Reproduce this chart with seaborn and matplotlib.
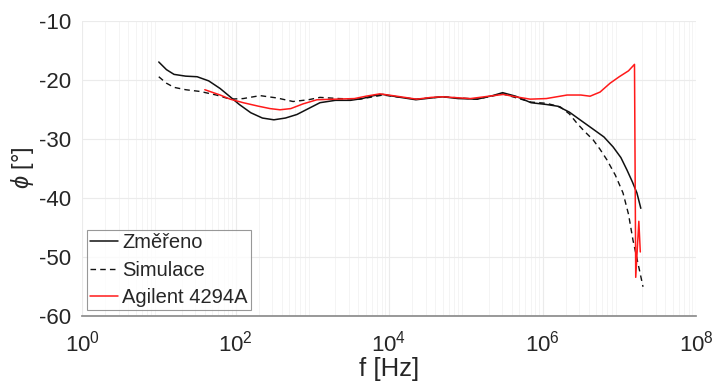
import numpy as np
import pandas as pd
import matplotlib
matplotlib.use("Agg")
import matplotlib.pyplot as plt
import seaborn as sns
from matplotlib.ticker import LogLocator

# Změřeno (measured)
f_meas = [1.00e1, 1.26e1, 1.58e1, 2.24e1, 3.16e1, 4.47e1, 6.31e1, 8.51e1, 1.12e2,
          1.58e2, 2.24e2, 3.16e2, 4.47e2, 6.31e2, 8.91e2, 1.26e3, 2.00e3, 3.16e3,
          4.47e3, 6.31e3, 8.32e3, 1.26e4, 2.24e4, 3.55e4, 5.01e4, 7.94e4, 1.41e5,
          2.24e5, 3.02e5, 4.47e5, 7.08e5, 1.12e6, 1.58e6, 2.24e6, 3.16e6, 4.47e6,
          6.31e6, 8.32e6, 1.05e7, 1.26e7, 1.48e7, 1.70e7, 1.91e7]
phi_meas = [-17.0, -18.3, -19.1, -19.4, -19.5, -20.2, -21.5, -22.9, -24.2,
            -25.6, -26.5, -26.8, -26.5, -25.9, -24.9, -23.9, -23.5, -23.5,
            -23.2, -22.7, -22.5, -22.9, -23.4, -23.1, -22.9, -23.2, -23.3,
            -22.7, -22.2, -22.8, -23.9, -24.2, -24.5, -25.5, -26.9, -28.3,
            -29.7, -31.4, -33.2, -35.3, -37.3, -39.2, -41.8]

# Simulace (simulation)
f_sim = [1.00e1, 1.26e1, 1.58e1, 2.24e1, 3.47e1, 5.62e1, 8.51e1, 1.26e2, 2.09e2,
         3.47e2, 5.62e2, 8.91e2, 1.26e3, 2.24e3, 4.17e3, 8.32e3, 2.24e4, 5.01e4,
         1.41e5, 3.02e5, 7.08e5, 1.12e6, 1.70e6, 2.24e6, 2.82e6, 3.55e6, 4.57e6,
         5.62e6, 6.92e6, 8.91e6, 1.12e7, 1.32e7, 1.51e7, 1.78e7, 2.04e7]
phi_sim = [-19.5, -20.6, -21.3, -21.7, -22.0, -22.6, -23.3, -23.2, -22.7,
           -23.1, -23.7, -23.4, -23.0, -23.2, -23.3, -22.6, -23.3, -22.9,
           -23.3, -22.4, -23.8, -24.0, -24.6, -25.8, -27.4, -28.8, -30.2,
           -31.8, -33.6, -36.2, -39.2, -42.8, -47.2, -51.5, -55.1]

# Agilent 4294A
f_agil = [3.98e1, 6.31e1, 8.51e1, 1.26e2, 2.00e2, 2.82e2, 3.80e2, 5.25e2, 7.59e2,
          1.15e3, 2.00e3, 3.55e3, 5.01e3, 7.59e3, 1.26e4, 2.29e4, 3.55e4, 5.01e4,
          1.15e5, 2.00e5, 3.09e5, 4.47e5, 6.92e5, 1.12e6, 2.09e6, 3.16e6, 4.17e6,
          5.62e6, 7.59e6, 1.00e7, 1.32e7, 1.58e7, 1.64e7, 1.80e7, 1.88e7]
phi_agil = [-21.7, -22.6, -23.3, -23.9, -24.5, -24.9, -25.1, -24.9, -24.1,
            -23.4, -23.3, -23.2, -22.8, -22.4, -22.8, -23.3, -23.0, -22.9,
            -23.2, -22.8, -22.5, -22.9, -23.3, -23.2, -22.6, -22.6, -22.8,
            -22.1, -20.6, -19.5, -18.5, -17.4, -53.5, -44.0, -49.2]

sns.set_theme(style="white")
plt.rcParams["font.family"] = ["Liberation Sans", "DejaVu Sans"]
plt.rcParams["mathtext.fontset"] = "custom"
plt.rcParams["mathtext.rm"] = "Liberation Sans"
plt.rcParams["mathtext.it"] = "Liberation Sans:italic"

fig = plt.figure(figsize=(7.17, 3.91), dpi=100)
ax = fig.add_axes([0.1144, 0.1926, 0.8563, 0.7545])

sns.lineplot(x=f_meas, y=phi_meas, ax=ax, color="#111111", lw=1.1,
             sort=False, estimator=None, label="Změřeno")
sns.lineplot(x=f_sim, y=phi_sim, ax=ax, color="#111111", lw=1.0,
             linestyle=(0, (4, 3)), sort=False, estimator=None, label="Simulace")
sns.lineplot(x=f_agil, y=phi_agil, ax=ax, color="#ff1a1a", lw=1.1,
             sort=False, estimator=None, label="Agilent 4294A")

ax.set_xscale("log")
ax.set_xlim(1, 1e8)
ax.set_ylim(-60, -10)
ax.set_yticks([-60, -50, -40, -30, -20, -10])
ax.set_yticklabels(["-60", "-50", "-40", "-30", "-20", "-10"])
ax.set_xticks([1, 1e2, 1e4, 1e6, 1e8])
ax.xaxis.set_minor_locator(LogLocator(base=10, subs=np.arange(2, 10), numticks=20))

ax.grid(True, which="major", color="#ebebeb", lw=0.8)
ax.grid(True, which="minor", axis="x", color="#f3f3f3", lw=0.6)
ax.set_axisbelow(True)

for s in ["top", "right", "left"]:
    ax.spines[s].set_visible(False)
ax.spines["bottom"].set_color("#8c8c8c")
ax.tick_params(axis="both", which="both", direction="in", colors="#8c8c8c",
               labelcolor="#262626", labelsize=16)
ax.tick_params(axis="x", which="major", length=5, pad=11)
ax.tick_params(axis="x", which="minor", length=3)
ax.tick_params(axis="y", length=5, pad=8)

ax.set_xlabel("f [Hz]", fontsize=18.5, color="#262626", labelpad=0)
ax.set_ylabel(r"$\phi$ [°]", fontsize=17, color="#262626", labelpad=2)

leg = ax.legend(loc="lower left", bbox_to_anchor=(0.008, 0.019), borderaxespad=0,
                fontsize=14.5, frameon=True, fancybox=False, handlelength=1.4,
                handletextpad=0.2, borderpad=0.15, labelspacing=0.42)
leg.get_frame().set_edgecolor("#7f7f7f")
leg.get_frame().set_linewidth(0.8)

fig.savefig("out.png", dpi=100)
